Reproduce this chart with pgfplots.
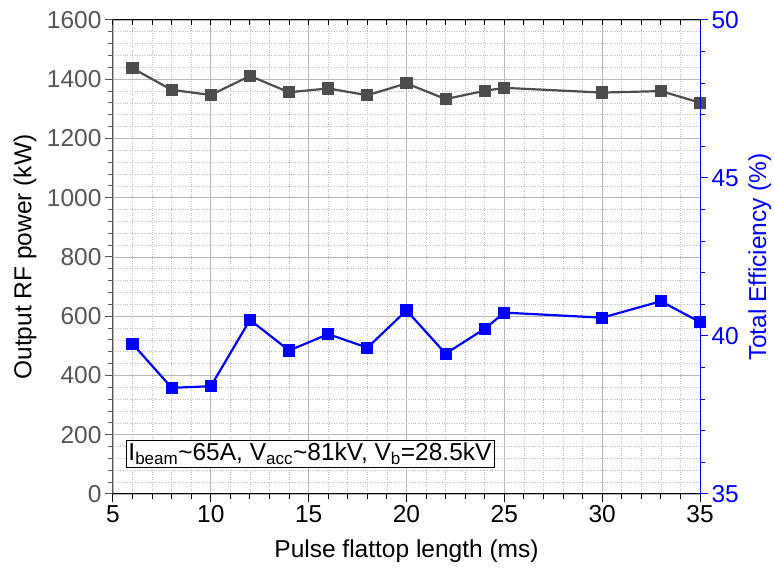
\documentclass[border=0pt]{standalone}
\usepackage{pgfplots}
\pgfplotsset{compat=1.18}
\usepackage{fontspec}
\setmainfont{Liberation Sans}
\newcommand{\fs}{\fontsize{24.5}{28}\selectfont}
\newcommand{\fss}{\fontsize{17}{19}\selectfont}
\definecolor{dgray}{HTML}{4D4D4D}
\definecolor{axgray}{HTML}{555555}
\definecolor{myblue}{HTML}{0000FF}
\begin{document}
\begin{tikzpicture}
\pgfplotsset{
  common/.style={
    scale only axis, width=587pt, height=474pt,
    xmin=5, xmax=35,
    /pgf/number format/assume math mode=true,
    /pgf/number format/1000 sep={},
    tick label style={font=\fs},
    label style={font=\fs},
    major tick length=8pt, minor tick length=5pt,
    tick align=outside,
  }
}
\begin{axis}[common,
  ymin=0, ymax=1600,
  axis y line*=left, axis x line*=bottom,
  xtick={5,10,...,35}, minor x tick num=4,
  ytick={0,200,...,1600}, minor y tick num=4,
  grid=both,
  major grid style={draw=black!28, line width=0.9pt},
  minor grid style={draw=black!25, dotted, line width=0.7pt},
  y axis line style={draw=axgray, line width=1pt},
  x axis line style={draw=black, line width=1pt},
  y tick style={draw=axgray, line width=1pt},
  x tick style={draw=black, line width=1pt},
  yticklabel style={text=axgray},
  xticklabel style={text=black},
  xlabel={Pulse flattop length (ms)},
  ylabel={Output RF power (kW)},
  xlabel style={at={(axis description cs:0.5,-0.12)}, anchor=center},
  ylabel style={at={(axis description cs:-0.15,0.5)}, anchor=center, rotate=0},
  clip=false,
]
\addplot[color=dgray, line width=2.2pt, mark=square*, mark size=5pt, mark options={solid}] coordinates {
(6,1437) (8,1364) (10,1347) (12,1411) (14,1356) (16,1369) (18,1346) (20,1386) (22,1333) (24,1361) (25,1371) (30,1355) (33,1360) (35,1321)
};
\node[draw=black, fill=white, line width=0.8pt, inner sep=2.5pt, font=\fs, anchor=center] at (axis description cs:0.3356,0.0844)
  {I\textsubscript{\fss beam}\textasciitilde 65A, V\textsubscript{\fss acc}\textasciitilde 81kV, V\textsubscript{\fss b}=28.5kV};
\end{axis}
\begin{axis}[common,
  ymin=35, ymax=50,
  axis y line*=right, axis x line=none,
  ytick={35,40,45,50}, minor y tick num=4,
  y axis line style={draw=myblue, line width=1pt},
  y tick style={draw=myblue, line width=1pt},
  yticklabel style={text=myblue},
  ylabel={Total Efficiency (\%)},
  ylabel style={at={(axis description cs:1.102,0.5)}, anchor=center, rotate=0, text=myblue},
  clip=false,
]
\addplot[color=myblue, line width=2.2pt, mark=square*, mark size=5pt, mark options={solid}] coordinates {
(6,39.75) (8,38.36) (10,38.41) (12,40.51) (14,39.54) (16,40.06) (18,39.63) (20,40.81) (22,39.44) (24,40.23) (25,40.74) (30,40.58) (33,41.10) (35,40.44)
};
\end{axis}
\begin{axis}[common,
  ymin=0, ymax=1, axis y line=none, axis x line*=top,
  xtick={5,10,...,35}, minor x tick num=4,
  xticklabels={}, tick align=inside,
  major tick length=5pt,
  x axis line style={draw=black, line width=1pt},
  x tick style={draw=black, line width=1pt},
]
\end{axis}
\pgfresetboundingbox
\path (-113pt,-84pt) rectangle (661pt,494pt);
\end{tikzpicture}
\end{document}
